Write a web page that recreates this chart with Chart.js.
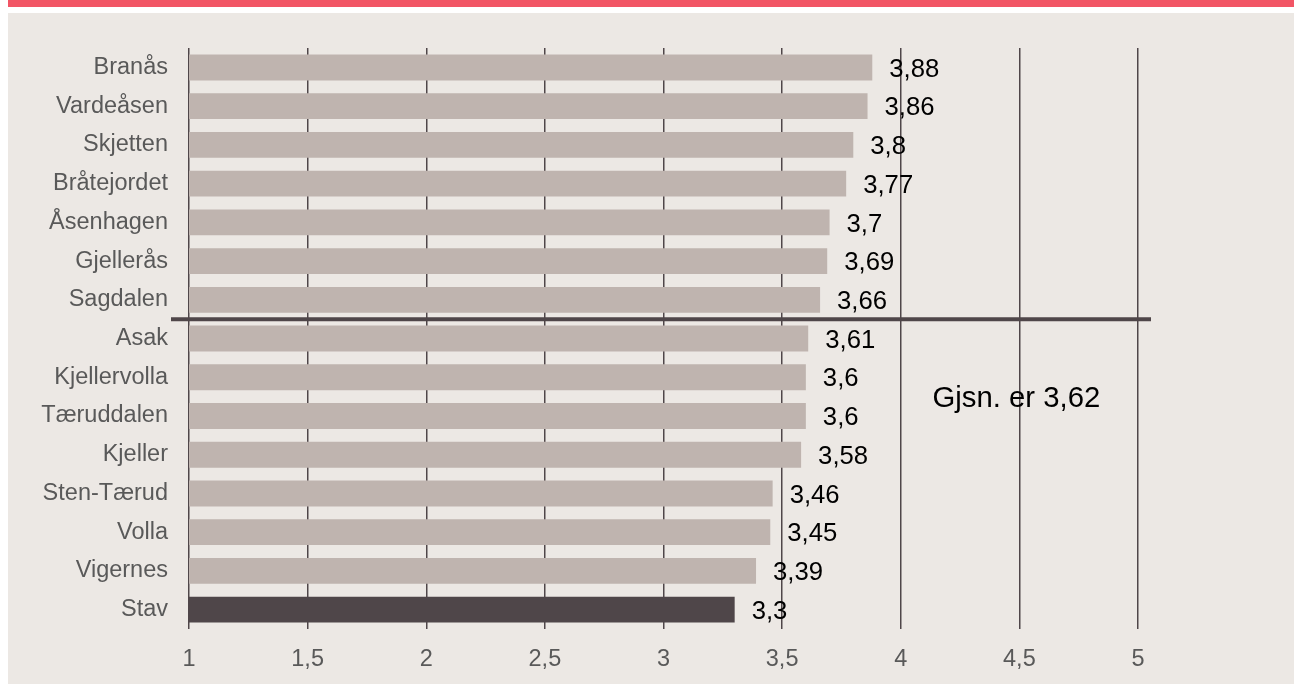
<!DOCTYPE html>
<html>
<head>
<meta charset="utf-8">
<script src="https://cdn.jsdelivr.net/npm/chart.js@4/dist/chart.umd.min.js"></script>
<style>
  body { margin: 0; background: #ffffff; width: 1294px; height: 684px; position: relative; overflow: hidden; }
  #topband { position: absolute; left: 8px; top: 0; width: 1286px; height: 7px; background: #f25565; }
  #panel { position: absolute; left: 8px; top: 13px; width: 1286px; height: 671px; background: #ece8e4; }
  #chart { position: absolute; left: 0; top: 0; }
</style>
</head>
<body>
<div id="topband"></div>
<div id="panel"><canvas id="chart" width="1286" height="671"></canvas></div>
<script>
// DATA
const schools = ["Branås", "Vardeåsen", "Skjetten", "Bråtejordet", "Åsenhagen", "Gjellerås", "Sagdalen",
  "Asak", "Kjellervolla", "Tæruddalen", "Kjeller", "Sten-Tærud", "Volla", "Vigernes", "Stav"];
const scores = [3.88, 3.86, 3.8, 3.77, 3.7, 3.69, 3.66, 3.61, 3.6, 3.6, 3.58, 3.46, 3.45, 3.39, 3.3];
const highlight = "Stav";
const average = 3.62;
const averageLabel = "Gjsn. er 3,62";

const fmt = (v) => String(v).replace(".", ",");
const barColors = schools.map((s) => s === highlight ? "#4f4649" : "#bfb4af");

// value labels next to each bar
const valueLabels = {
  id: "valueLabels",
  afterDatasetsDraw(chart) {
    const ctx = chart.ctx;
    const x = chart.scales.x;
    const y = chart.scales.y;
    ctx.save();
    ctx.font = "25.7px 'Liberation Sans', Arial, sans-serif";
    ctx.fillStyle = "#000000";
    ctx.textAlign = "left";
    ctx.textBaseline = "alphabetic";
    scores.forEach((v, i) => {
      ctx.fillText(fmt(v), x.getPixelForValue(v) + 17, y.getPixelForValue(i) + 0.358 * 25.7);
    });
    ctx.restore();
  }
};

// average line between Sagdalen and Asak + label
const averageLine = {
  id: "averageLine",
  afterDraw(chart) {
    const ctx = chart.ctx;
    const x = chart.scales.x;
    const y = chart.scales.y;
    const area = chart.chartArea;
    // line sits between the schools above and below the average
    let split = scores.findIndex((v) => v < average);
    const yLine = (y.getPixelForValue(split - 1) + y.getPixelForValue(split)) / 2;
    ctx.save();
    ctx.strokeStyle = "#4f4649";
    ctx.lineWidth = 4;
    ctx.beginPath();
    ctx.moveTo(area.left - 18, yLine);
    ctx.lineTo(area.right + 13, yLine);
    ctx.stroke();

    ctx.font = "29.3px 'Liberation Sans', Arial, sans-serif";
    ctx.fillStyle = "#000000";
    ctx.textAlign = "center";
    ctx.textBaseline = "alphabetic";
    ctx.fillText(averageLabel, x.getPixelForValue(4.5) - 3, y.getPixelForValue(8.5) + 0.358 * 29.3);
    ctx.restore();
  }
};

new Chart(document.getElementById("chart"), {
  type: "bar",
  data: {
    labels: schools,
    datasets: [{
      data: scores,
      backgroundColor: barColors,
      borderWidth: 0,
      barPercentage: 0.668,
      categoryPercentage: 1
    }]
  },
  options: {
    indexAxis: "y",
    responsive: false,
    animation: false,
    devicePixelRatio: 1,
    layout: { padding: { left: 0, top: 33, right: 156, bottom: 0 } },
    plugins: {
      legend: { display: false },
      tooltip: { enabled: false }
    },
    scales: {
      x: {
        min: 1,
        max: 5,
        border: { display: false },
        grid: { color: "#4f4649", lineWidth: 1.5, drawTicks: false },
        ticks: {
          stepSize: 0.5,
          padding: 16,
          color: "#595959",
          font: { family: "'Liberation Sans', Arial, sans-serif", size: 23.5 },
          callback: (v) => fmt(v)
        },
        afterFit(scale) { scale.height = 55; }
      },
      y: {
        border: { display: false },
        grid: { display: false, drawTicks: false },
        ticks: {
          padding: 21,
          color: "#595959",
          font: { family: "'Liberation Sans', Arial, sans-serif", size: 23.5 }
        },
        afterFit(scale) { scale.width = 181; }
      }
    }
  },
  plugins: [valueLabels, averageLine]
});
</script>
</body>
</html>
